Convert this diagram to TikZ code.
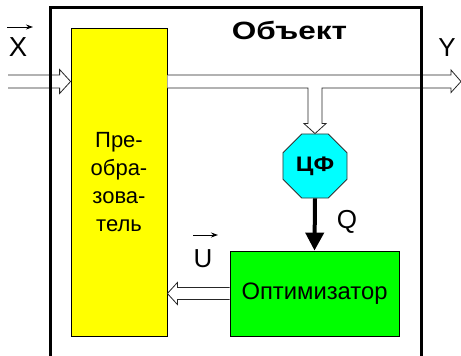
\documentclass[tikz,border=0pt]{standalone}
\usepackage{fontspec}
\setmainfont{Liberation Sans}
\usetikzlibrary{arrows.meta,shapes.geometric,calc}
\definecolor{yel}{RGB}{255,255,0}
\definecolor{cya}{RGB}{0,255,255}
\definecolor{gre}{RGB}{0,255,0}
\begin{document}
\begin{tikzpicture}[x=1pt,y=-1pt,
  box/.style={draw=black, line width=0.8pt, inner sep=0pt},
  hollow/.style={fill=white, draw=black!85, line width=0.8pt, line join=miter},
  lbl/.style={inner sep=0pt, font=\fontsize{26}{30}\selectfont},
  vec/.style={line width=0.9pt, -{Stealth[length=7pt,width=5pt]}},
  frame/.style={line width=3pt}]
\useasboundingbox (0,0) rectangle (461,356);
% blocks
\node[box, fill=yel, minimum width=96pt, minimum height=308pt,
  align=center, font=\fontsize{22}{28}\selectfont] (conv) at (119,182)
  {Пре-\\обра-\\зова-\\тель};
\node[box, fill=gre, minimum width=169pt, minimum height=85pt,
  font=\fontsize{23.8}{28}\selectfont] (opt) at (314.5,293.5) {Оптимизатор};
\node[regular polygon, regular polygon sides=8, draw=black!80, line width=0.8pt,
  fill=cya, minimum size=69.3pt, inner sep=0pt,
  font=\bfseries\fontsize{21}{24}\selectfont] (cf) at (315,166) {\scalebox{1.15}[1]{ЦФ}};
% coordinates
\coordinate (xin) at (8,81.5);
\coordinate (yout) at (461,81.5);
\coordinate (T1) at (conv.west |- xin);
\coordinate (S2) at (conv.east |- xin);
\coordinate (br) at (cf.north |- xin);
\coordinate (T4) at (conv.east |- opt.west);
% input hollow arrow
\filldraw[hollow] ($(xin)+(0,-6.5)$) -- ($(T1)+(-11,-6.5)$) -- ++(0,-5.5) -- (T1)
  -- ($(T1)+(-11,12)$) -- ++(0,-5.5) -- ($(xin)+(0,6.5)$);
% output hollow arrow with branch to cf
\filldraw[hollow] ($(S2)+(0,-6.5)$) -- ($(yout)+(-10,-6.5)$) -- ++(0,-5) -- (yout)
  -- ($(yout)+(-10,11)$) -- ++(0,-4.5) -- ($(br)+(7,6.5)$)
  -- ($(cf.north)+(7,-10)$) -- ++(4,0) -- (cf.north) -- ($(cf.north)+(-11,-10)$)
  -- ++(4,0) -- ($(br)+(-7,6.5)$) -- ($(S2)+(0,6.5)$);
% control hollow arrow
\filldraw[hollow] ($(opt.west)+(0,-6)$) -- ($(T4)+(10,-6)$) -- ++(0,-5) -- (T4)
  -- ($(T4)+(10,11)$) -- ++(0,-5) -- ($(opt.west)+(0,6)$);
% Q arrow
\draw[line width=4pt, -{Triangle[length=18pt,width=18pt]}] (cf.south) -- (opt.north);
% frame
\draw[frame] (50,356) -- (50,7) -- (421,7) -- (421,356);
% labels
\node[inner sep=0pt, font=\bfseries\fontsize{25}{30}\selectfont] (obj) at (289.5,30)
  {\scalebox{1.26}[1]{Объект}};
\node[lbl, font=\fontsize{27.5}{30}\selectfont] (X) at (18,47) {X};
\draw[vec] ($(X)+(-11,-20)$) -- ($(X)+(15,-20)$);
\node[lbl] (Y) at (447,48) {Y};
\node[lbl] (Q) at (347,222) {Q};
\node[lbl] (U) at (203,259) {U};
\draw[vec] ($(U)+(-10,-24)$) -- ($(U)+(15,-24)$);
\end{tikzpicture}
\end{document}
